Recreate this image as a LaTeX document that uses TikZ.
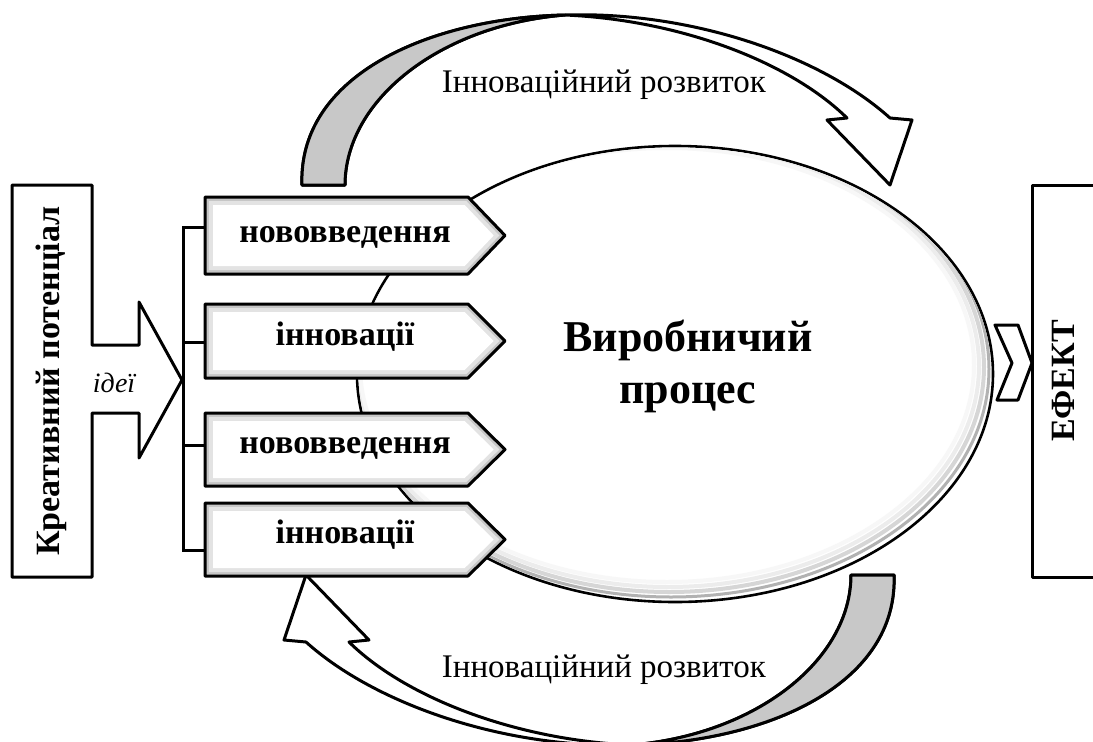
\documentclass[tikz,border=0pt]{standalone}
\usepackage{fontspec}
\setmainfont{Liberation Serif}
\usetikzlibrary{shapes.geometric}
\definecolor{backgray}{RGB}{200,200,200}
\newcommand\curvarrow{%
  \filldraw[outl, fill=white] (302,185) .. controls (298,75) and (430,18) .. (565,15)
     .. controls (690,11) and (820,55) .. (890,118) -- (912,120) -- (890,185) -- (827,120) -- (847,118)
     .. controls (790,62) and (680,20) .. (565,15)
     .. controls (440,25) and (345,100) .. (345,185) -- cycle;
  \filldraw[outl, fill=backgray] (302,185) .. controls (298,75) and (430,18) .. (565,15)
     .. controls (440,25) and (345,100) .. (345,185) -- cycle;
}
\newcommand\pbox[2]{%
  \pgfmathsetmacro\pbmid{(#1+#2)/2}%
  \fill[gray!45] (205,#1) -- (468,#1) -- (505,\pbmid) -- (468,#2) -- (205,#2) -- cycle;
  \fill[gray!22] (209,#1+4) -- (466.3,#1+4) -- (499.3,\pbmid) -- (466.3,#2-4) -- (209,#2-4) -- cycle;
  \fill[white] (213,#1+8) -- (464.7,#1+8) -- (493.7,\pbmid) -- (464.7,#2-8) -- (213,#2-8) -- cycle;
  \draw[outl] (205,#1) -- (468,#1) -- (505,\pbmid) -- (468,#2) -- (205,#2) -- cycle;
}
\begin{document}
\begin{tikzpicture}[x=1pt,y=-1pt,
  outl/.style={draw=black, line width=3pt, line join=round},
  lbl/.style={font=\fontsize{34}{40}\selectfont\bfseries, inner sep=0pt},
  arrlbl/.style={font=\fontsize{33}{38}\selectfont, inner sep=0pt}]
\clip (0,0) rectangle (1093,742);
\fill[white] (0,0) rectangle (1093,742);

% curved arrows
\curvarrow
\begin{scope}[rotate around={180:(598,380)}]
\curvarrow
\end{scope}

% production process ellipse
\node[ellipse, draw, line width=2.6pt, fill=white, minimum width=636pt, minimum height=456pt, inner sep=0pt] (vp) at (675,374) {};
\begin{scope}
\clip (675,374) ellipse [x radius=316.5, y radius=226.5];
\draw[gray!60, line width=3pt] (671,369) ellipse [x radius=318, y radius=228];
\draw[gray!32, line width=4pt] (669,367) ellipse [x radius=315, y radius=225];
\draw[gray!15, line width=4pt] (668,366) ellipse [x radius=311, y radius=221];
\draw[gray!6, line width=4pt] (667,365) ellipse [x radius=307, y radius=217];
\end{scope}
\node[font=\fontsize{44}{52}\selectfont\bfseries, align=center, inner sep=0pt] (vpt) at (688,366) {Виробничий\\процес};

% effect
\filldraw[outl, fill=white] (995,325) -- (1018,325) -- (1032,363) -- (1018,400) -- (997,400) -- (1012,363) -- cycle;
\node[outl, fill=white, minimum width=92pt, minimum height=392pt, inner sep=0pt] (efbox) at (1078,381) {};
\node[lbl, rotate=90] (ef) at (1063,381) {ЕФЕКТ};

% creative potential with arrow
\filldraw[outl, fill=white] (12,185) -- (92,185) -- (92,345) -- (139,345) -- (139,302) -- (182,380) -- (139,458) -- (139,413) -- (92,413) -- (92,577) -- (12,577) -- cycle;
\node[lbl, rotate=90] (kp) at (51,381) {Креативний потенціал};
\node[font=\fontsize{28}{32}\selectfont\itshape, anchor=base, inner sep=0pt] (idei) at (114,392) {ідеї};

% bracket
\coordinate (tip) at (182,380);
\coordinate (br1) at (183,227);
\coordinate (br2) at (183,342);
\coordinate (br3) at (183,445);
\coordinate (br4) at (183,550);
\coordinate (b1w) at (206,227);
\coordinate (b2w) at (206,342);
\coordinate (b3w) at (206,445);
\coordinate (b4w) at (206,550);
\draw[line width=3pt] (b1w) -- (br1) -- (br4) -- (b4w);
\draw[line width=3pt] (br2) -- (b2w);
\draw[line width=3pt] (br3) -- (b3w);

% boxes
\pbox{197}{274}
\pbox{304}{378}
\pbox{413}{486}
\pbox{503}{576}
\node[lbl, anchor=base] (n1) at (345,242) {нововведення};
\node[lbl, anchor=base] (n2) at (345,345) {інновації};
\node[lbl, anchor=base] (n3) at (345,453) {нововведення};
\node[lbl, anchor=base] (n4) at (345,543) {інновації};

% arrow labels
\node[arrlbl, anchor=base] (ir1) at (604,92) {Інноваційний розвиток};
\node[arrlbl, anchor=base] (ir2) at (604,677) {Інноваційний розвиток};
\end{tikzpicture}
\end{document}
